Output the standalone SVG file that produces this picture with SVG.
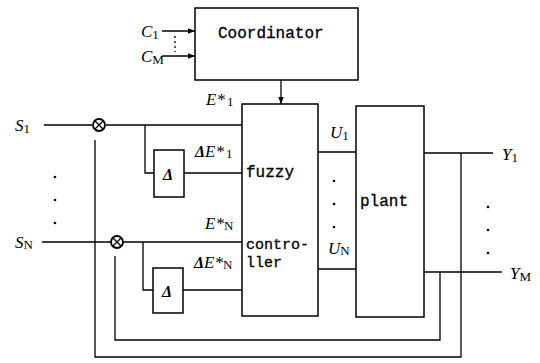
<svg xmlns="http://www.w3.org/2000/svg" width="540" height="363" viewBox="0 0 540 363">
<style>
.ln{fill:none;stroke:#000;stroke-width:1.3}
.bx{fill:#fff;stroke:#000;stroke-width:1.5}
.mono{font-family:"Liberation Mono","DejaVu Sans Mono",monospace;font-size:16px;fill:#000;stroke:#000;stroke-width:0.3}
.sm{font-size:15px}
.it{font-family:"Liberation Serif","DejaVu Serif",serif;font-style:italic;font-size:17px;fill:#000}
.sub{font-style:normal;font-size:13px}
.dl{font-family:"Liberation Serif",serif;font-style:italic;font-weight:bold;font-size:16px;fill:#000}
.dot{fill:#000}
</style>
<defs>
<marker id="ah" viewBox="0 0 10 10" refX="10" refY="5" markerWidth="7" markerHeight="7" orient="auto" markerUnits="userSpaceOnUse">
<path d="M0,1 L10,5 L0,9 z" fill="#000"/>
</marker>
</defs>
<g id="connectors">
<path class="ln" d="M162,31 H195" marker-end="url(#ah)"/>
<path class="ln" d="M162,56 H195" marker-end="url(#ah)"/>
<path class="ln" d="M175,36 V52" stroke-dasharray="2,3"/>
<path class="ln" d="M281,80 V104" marker-end="url(#ah)"/>
<path class="ln" d="M44,125 H92"/>
<path class="ln" d="M106,125 H242"/>
<path class="ln" d="M145,125 V173 H154"/>
<path class="ln" d="M184,173 H242"/>
<path class="ln" d="M42,242 H111"/>
<path class="ln" d="M123,242 H242"/>
<path class="ln" d="M143,242 V290 H153"/>
<path class="ln" d="M183,290 H242"/>
<path class="ln" d="M318,152 H356"/>
<path class="ln" d="M318,269 H356"/>
<path class="ln" d="M424,153 H493"/>
<path class="ln" d="M424,272 H502"/>
<path class="ln" d="M461,153 V357 H95 V140"/>
<path class="ln" d="M440,272 V340 H115 V256"/>
</g>
<g id="coordinator">
<rect class="bx" x="195" y="8" width="163" height="72"/>
<text class="mono" x="218" y="38">Coordinator</text>
</g>
<g id="fuzzy-controller">
<rect class="bx" x="242" y="104" width="76" height="212"/>
<text class="mono" x="246" y="177">fuzzy</text>
<text class="mono sm" x="246" y="249">contro-</text>
<text class="mono sm" x="246" y="267">ller</text>
</g>
<g id="plant">
<rect class="bx" x="356" y="106" width="68" height="211"/>
<text class="mono" x="360" y="206">plant</text>
</g>
<g id="delta1">
<rect class="bx" x="154" y="150" width="30" height="47"/>
<text class="dl" x="163" y="180">Δ</text>
</g>
<g id="deltaN">
<rect class="bx" x="153" y="268" width="30" height="45"/>
<text class="dl" x="162" y="297">Δ</text>
</g>
<g id="mult1">
<circle cx="99" cy="125" r="6" fill="#fff" stroke="#000" stroke-width="1.8"/>
<path class="ln" d="M95,121 L103,129 M103,121 L95,129" stroke-width="1.8"/>
</g>
<g id="multN">
<circle cx="117" cy="242" r="6" fill="#fff" stroke="#000" stroke-width="1.8"/>
<path class="ln" d="M113,238 L121,246 M121,238 L113,246" stroke-width="1.8"/>
</g>
<g id="labels">
<text class="it" x="141" y="37">C<tspan class="sub" dy="2">1</tspan></text>
<text class="it" x="141" y="62">C<tspan class="sub" dy="2">M</tspan></text>
<text class="it" x="15" y="131">S<tspan class="sub" dy="2">1</tspan></text>
<text class="it" x="15" y="248">S<tspan class="sub" dy="1">N</tspan></text>
<text class="it" x="206" y="105">E*<tspan class="sub" dx="2" dy="1">1</tspan></text>
<text class="it" x="205" y="229">E*<tspan class="sub" dy="1">N</tspan></text>
<text class="it" x="195" y="157"><tspan class="dl">Δ</tspan>E*<tspan class="sub" dx="2" dy="1">1</tspan></text>
<text class="it" x="194" y="268"><tspan class="dl">Δ</tspan>E*<tspan class="sub" dy="1">N</tspan></text>
<text class="it" x="330" y="138">U<tspan class="sub" dy="2">1</tspan></text>
<text class="it" x="328" y="254">U<tspan class="sub" dy="1">N</tspan></text>
<text class="it" x="502" y="160">Y<tspan class="sub" dy="2">1</tspan></text>
<text class="it" x="510" y="279">Y<tspan class="sub" dy="2">M</tspan></text>
</g>
<g id="dots">
<circle class="dot" cx="55" cy="177" r="1.3"/>
<circle class="dot" cx="55" cy="200" r="1.3"/>
<circle class="dot" cx="55" cy="223" r="1.3"/>
<circle class="dot" cx="334" cy="181" r="1.3"/>
<circle class="dot" cx="334" cy="204" r="1.3"/>
<circle class="dot" cx="334" cy="227" r="1.3"/>
<circle class="dot" cx="488" cy="207" r="1.3"/>
<circle class="dot" cx="488" cy="230" r="1.3"/>
<circle class="dot" cx="488" cy="253" r="1.3"/>
</g>
</svg>
